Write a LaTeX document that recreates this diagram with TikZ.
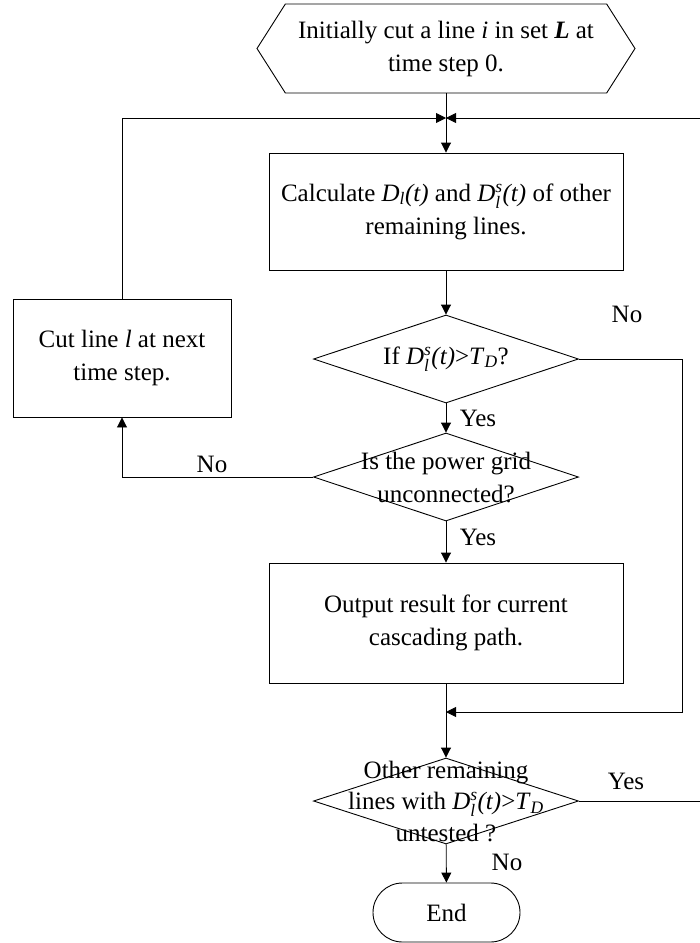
\documentclass[tikz,border=0pt]{standalone}
\usepackage{fontspec}
\usepackage{amsmath}
\setmainfont{Liberation Serif}
\usetikzlibrary{arrows.meta,shapes.geometric,shapes.symbols,shapes.misc}

% Italic quantities of the flow chart
\newcommand{\Dlt}{\textit{D}$_{\textit{l}}$\textit{(t)}}
\newcommand{\Dlst}{\textit{D}$_{\textit{l}}^{\textit{s}}$\textit{(t)}}
\newcommand{\TD}{\textit{T}$_{\textit{D}}$}

\tikzset{
  flowfont/.style={font=\fontsize{25}{33}\selectfont},
  startbox/.style={draw, signal, signal to=west and east, signal pointer angle=115,
    minimum width=378pt, minimum height=89pt, inner sep=0pt, align=center},
  process/.style={draw, rectangle, inner sep=0pt, align=center},
  decision/.style={draw, diamond, inner sep=0pt, minimum width=265pt, minimum height=88pt},
  endbox/.style={draw, rounded rectangle, inner sep=0pt, minimum width=147pt, minimum height=59pt},
  answer/.style={inner sep=0pt}
}

\begin{document}
\begin{tikzpicture}[x=1pt, y=-1pt, line width=0.9pt,
    >={Triangle[length=10pt,width=10pt]}, every node/.style={flowfont}]
    \useasboundingbox (0,0) rectangle (700,943);

    % Main column
    \node[startbox] (init) at (446,48.5) {Initially cut a line \textit{i} in set \textbf{\textit{L}} at\\time step 0.};
    \node[process, minimum width=354pt, minimum height=117pt] (calc) at (446,211.5)
        {Calculate \Dlt{} and \Dlst{} of other\\remaining lines.};
    \node[decision, label={center:If \Dlst{}>\TD{}?}] (test) at (446,359) {};
    \node[decision, label={[align=center]center:Is the power grid\\unconnected?}] (grid) at (446,477) {};
    \node[process, minimum width=354pt, minimum height=120pt] (output) at (446,623)
        {Output result for current\\cascading path.};
    \node[decision, minimum height=86pt,
        label={[align=center, font=\fontsize{25}{31.5}\selectfont]center:Other remaining\\lines with \Dlst{}>\TD{}\\untested ?}] (other) at (446,801) {};
    \node[endbox] (end) at (446.5,912.5) {End};

    % Side box
    \node[process, minimum width=218pt, minimum height=118pt] (cut) at (122,358)
        {Cut line \textit{l} at next\\time step.};

    % Meeting points on the main column
    \coordinate (merge) at (446,118);
    \coordinate (join) at (446,712);

    % Straight arrows
    \draw[->] (init.south) -- (calc.north);
    \draw[->] (calc) -- (test);
    \draw[->] (test) -- (grid);
    \draw[->] (grid) -- (output);
    \draw[->] (output) -- (other);
    \draw[->] (other) -- (end);

    % Loops and bypasses
    \draw[->] (cut.north) |- (merge);
    \draw[->] (other.east) -- ++(132,0) |- (merge);
    \draw[->] (test.east) -- ++(103.5,0) |- (join);
    \draw[->] (grid.west) -| (cut.south);

    % Yes / No answers
    \node[answer] (yes1) at (478,418) {Yes};
    \node[answer] (yes2) at (478,537) {Yes};
    \node[answer] (yes3) at (626,781) {Yes};
    \node[answer] (no1) at (627,314) {No};
    \node[answer] (no2) at (212,464) {No};
    \node[answer] (no3) at (507,862) {No};
\end{tikzpicture}
\end{document}
